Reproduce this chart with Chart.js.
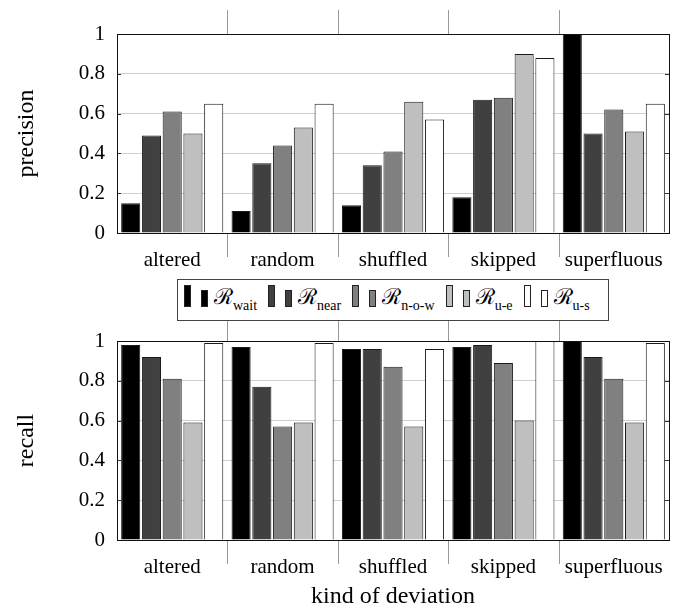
<!DOCTYPE html>
<html>
<head>
<meta charset="utf-8">
<script src="https://cdn.jsdelivr.net/npm/chart.js@4.4.1/dist/chart.umd.min.js"></script>
<style>
  html, body { margin: 0; padding: 0; background: #fff; overflow: hidden; }
  #wrap { position: relative; width: 680px; height: 609px; }
  #precisionChart { position: absolute; left: 0; top: 0; }
  #recallChart { position: absolute; left: 0; top: 300px; }
  #legend {
    position: absolute; left: 177px; top: 279px; width: 432px; height: 42px;
    box-sizing: border-box; border: 1px solid #444; background: #fff;
    display: flex; align-items: flex-end; padding: 0 0 13px 6px;
    font-family: "Liberation Serif", "DejaVu Serif", serif; color: #000;
  }
  .item { display: flex; align-items: flex-end; margin-right: 11px; }
  .tall, .short { box-sizing: border-box; width: 7px; border: 1px solid #222; }
  .tall { height: 22px; }
  .short { height: 17px; margin-left: 10px; }
  .lab { display: block; font-size: 22px; line-height: 21px; margin-left: 6px; white-space: nowrap; }
  .lab sub { font-family: "Liberation Serif", serif; font-size: 14px; line-height: 0; vertical-align: -6px; }
</style>
</head>
<body>
<div id="wrap">
  <canvas id="precisionChart" width="680" height="290"></canvas>
  <canvas id="recallChart" width="680" height="309"></canvas>
  <div id="legend"></div>
</div>
<script>
// Categories and series
var categories = ['altered', 'random', 'shuffled', 'skipped', 'superfluous'];
var seriesNames = ['wait', 'near', 'n-o-w', 'u-e', 'u-s'];
var seriesColors = ['#000000', '#404040', '#808080', '#bfbfbf', '#ffffff'];
var yTicks = [0, 0.2, 0.4, 0.6, 0.8, 1];

// Precision per series (altered, random, shuffled, skipped, superfluous)
var precisionWait = [0.15, 0.11, 0.14, 0.18, 1.00];
var precisionNear = [0.49, 0.35, 0.34, 0.67, 0.50];
var precisionNow  = [0.61, 0.44, 0.41, 0.68, 0.62];
var precisionUe   = [0.50, 0.53, 0.66, 0.90, 0.51];
var precisionUs   = [0.65, 0.65, 0.57, 0.88, 0.65];

// Recall per series
var recallWait = [0.98, 0.97, 0.96, 0.97, 1.00];
var recallNear = [0.92, 0.77, 0.96, 0.98, 0.92];
var recallNow  = [0.81, 0.57, 0.87, 0.89, 0.81];
var recallUe   = [0.59, 0.59, 0.57, 0.60, 0.59];
var recallUs   = [0.99, 0.99, 0.96, 1.00, 0.99];

var serif = '"Liberation Serif", "Times New Roman", serif';

// Draws the frame, the inward y ticks and the category separators outside the plot
var framePlugin = {
  id: 'frame',
  afterDatasetsDraw: function(chart) {
    var ctx = chart.ctx, a = chart.chartArea, x = chart.scales.x, y = chart.scales.y;
    ctx.save();
    ctx.lineWidth = 1;
    ctx.strokeStyle = '#999';
    ctx.beginPath();
    for (var i = 1; i < categories.length; i++) {
      var px = Math.round((x.getPixelForValue(i - 1) + x.getPixelForValue(i)) / 2) + 0.5;
      ctx.moveTo(px, a.top - 24); ctx.lineTo(px, a.top);
      ctx.moveTo(px, a.bottom); ctx.lineTo(px, a.bottom + 24);
    }
    ctx.stroke();
    ctx.strokeStyle = '#333';
    ctx.beginPath();
    yTicks.forEach(function(v) {
      var py = Math.round(y.getPixelForValue(v)) + 0.5;
      ctx.moveTo(a.left, py); ctx.lineTo(a.left + 4, py);
      ctx.moveTo(a.right - 4, py); ctx.lineTo(a.right, py);
    });
    ctx.stroke();
    ctx.strokeStyle = '#111';
    ctx.strokeRect(Math.round(a.left) + 0.5, Math.round(a.top) + 0.5,
                   Math.round(a.right - a.left), Math.round(a.bottom - a.top));
    ctx.restore();
  }
};

function makeDatasets(rows) {
  return rows.map(function(row, i) {
    return {
      label: 'R ' + seriesNames[i],
      data: row,
      backgroundColor: seriesColors[i],
      borderColor: '#1a1a1a',
      borderWidth: 1,
      categoryPercentage: 0.94,
      barPercentage: 0.92
    };
  });
}

function makeChart(id, rows, yTitle, xTitle, padTop, xHeight) {
  var ctx = document.getElementById(id).getContext('2d');
  return new Chart(ctx, {
    type: 'bar',
    data: { labels: categories, datasets: makeDatasets(rows) },
    plugins: [framePlugin],
    options: {
      responsive: false,
      animation: false,
      devicePixelRatio: 1,
      layout: { padding: { top: padTop, right: 11, left: 0, bottom: 0 } },
      scales: {
        x: {
          grid: { display: false },
          border: { display: false },
          ticks: { color: '#000', font: { family: serif, size: 21 }, padding: 7, maxRotation: 0 },
          title: {
            display: !!xTitle,
            text: xTitle || '',
            color: '#000',
            font: { family: serif, size: 24, lineHeight: 1 },
            padding: { top: 0, bottom: 0 }
          },
          afterFit: function(s) { s.height = xHeight; }
        },
        y: {
          min: 0,
          max: 1,
          afterBuildTicks: function(s) { s.ticks = yTicks.map(function(v) { return { value: v }; }); },
          grid: { color: '#cfcfcf', lineWidth: 1, drawTicks: false },
          border: { display: false },
          ticks: {
            color: '#000', font: { family: serif, size: 21 }, padding: 12,
            callback: function(v) { return String(v); }
          },
          title: {
            display: true,
            text: yTitle,
            color: '#000',
            font: { family: serif, size: 24, lineHeight: 1.2 },
            padding: { top: 12, bottom: 0 }
          },
          afterFit: function(s) { s.width = 117; }
        }
      },
      plugins: {
        legend: { display: false },
        tooltip: { enabled: false }
      }
    }
  });
}

makeChart('precisionChart',
  [precisionWait, precisionNear, precisionNow, precisionUe, precisionUs],
  'precision', null, 34, 57);
makeChart('recallChart',
  [recallWait, recallNear, recallNow, recallUe, recallUs],
  'recall', 'kind of deviation', 41, 69);

// Legend between the two plots
var legend = document.getElementById('legend');
seriesNames.forEach(function(name, i) {
  var item = document.createElement('div');
  item.className = 'item';
  item.innerHTML = '<span class="tall" style="background:' + seriesColors[i] + '"></span>' +
                   '<span class="short" style="background:' + seriesColors[i] + '"></span>' +
                   '<span class="lab">\u211B<sub>' + name + '</sub></span>';
  legend.appendChild(item);
});
</script>
</body>
</html>
